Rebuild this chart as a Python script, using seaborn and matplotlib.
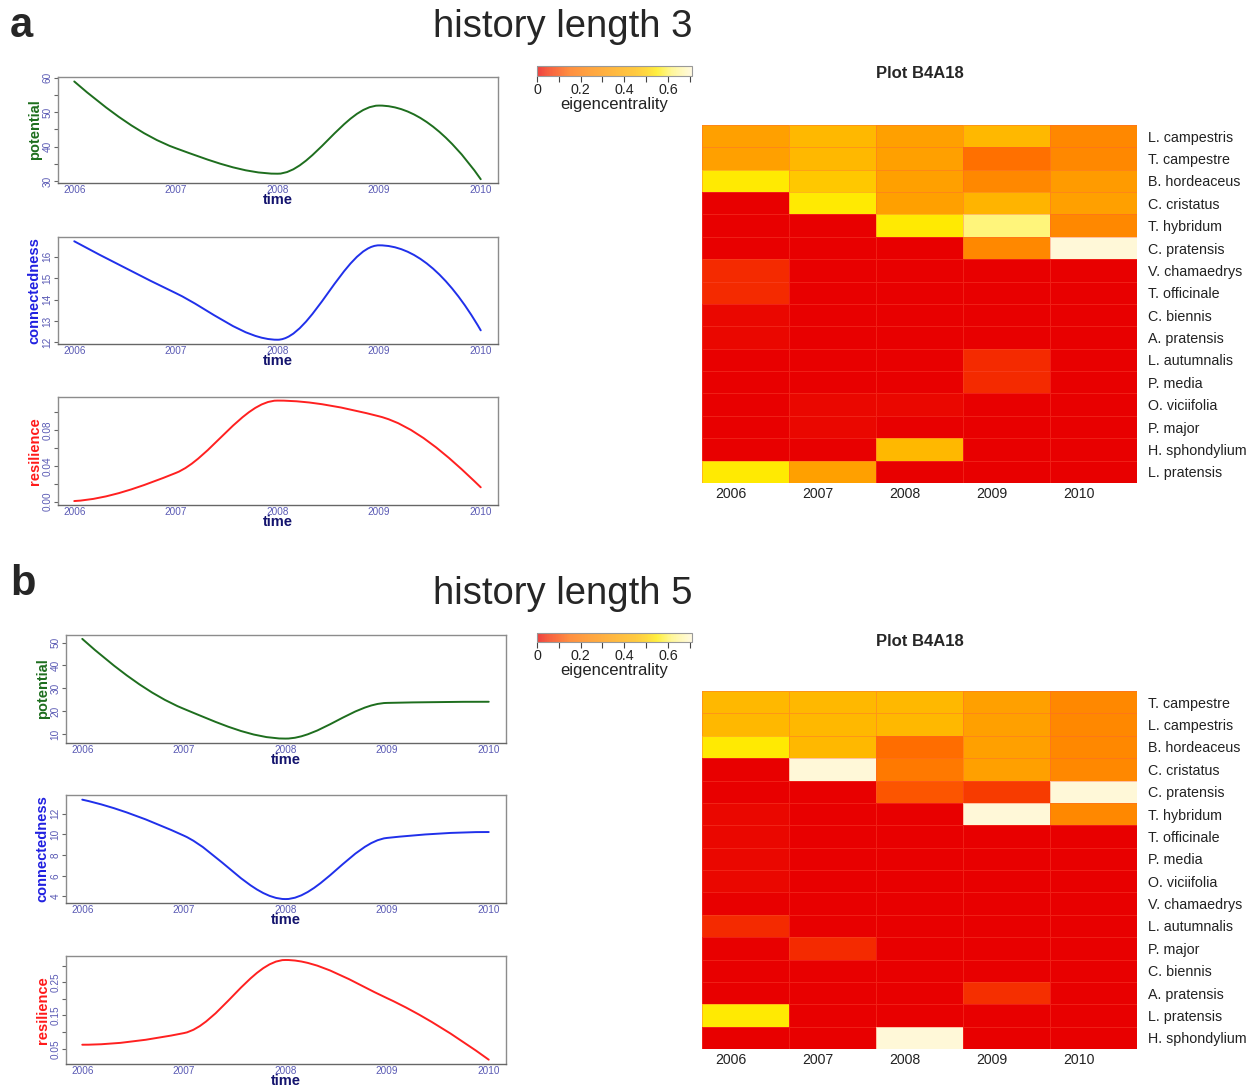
import numpy as np
import pandas as pd
import matplotlib
matplotlib.use("Agg")
import matplotlib.pyplot as plt
import seaborn as sns
from matplotlib.path import Path
from matplotlib.patches import PathPatch
from matplotlib.colors import LinearSegmentedColormap
import matplotlib.transforms as mtransforms

sns.set_style("white")
plt.rcParams['font.family'] = ['Liberation Sans', 'DejaVu Sans']

# ---------------- data ----------------
years = [2006, 2007, 2008, 2009, 2010]

potential_h3 = [58.9, 39.5, 32.1, 51.9, 30.5]
connectedness_h3 = [16.73, 14.3, 12.12, 16.54, 12.56]
resilience_h3 = [0.0007, 0.032, 0.1125, 0.095, 0.016]

potential_h5 = [51.6, 21.0, 8.0, 23.6, 24.1]
connectedness_h5 = [13.35, 9.87, 3.74, 9.65, 10.22]
resilience_h5 = [0.062, 0.097, 0.317, 0.202, 0.017]

species_h3 = ["L. campestris", "T. campestre", "B. hordeaceus", "C. cristatus",
              "T. hybridum", "C. pratensis", "V. chamaedrys", "T. officinale",
              "C. biennis", "A. pratensis", "L. autumnalis", "P. media",
              "O. viciifolia", "P. major", "H. sphondylium", "L. pratensis"]
eig_h3_2006 = [0.35, 0.35, 0.55, 0.00, 0.00, 0.00, 0.05, 0.05, 0.01, 0.01, 0.00, 0.00, 0.00, 0.00, 0.00, 0.55]
eig_h3_2007 = [0.45, 0.45, 0.49, 0.55, 0.00, 0.00, 0.00, 0.00, 0.00, 0.00, 0.00, 0.00, 0.01, 0.01, 0.00, 0.35]
eig_h3_2008 = [0.35, 0.35, 0.35, 0.35, 0.55, 0.00, 0.00, 0.00, 0.00, 0.00, 0.00, 0.00, 0.01, 0.00, 0.45, 0.00]
eig_h3_2009 = [0.45, 0.17, 0.25, 0.43, 0.62, 0.25, 0.00, 0.00, 0.00, 0.00, 0.05, 0.05, 0.00, 0.00, 0.00, 0.00]
eig_h3_2010 = [0.25, 0.25, 0.33, 0.35, 0.25, 0.71, 0.00, 0.00, 0.00, 0.00, 0.00, 0.00, 0.00, 0.00, 0.00, 0.00]

species_h5 = ["T. campestre", "L. campestris", "B. hordeaceus", "C. cristatus",
              "C. pratensis", "T. hybridum", "T. officinale", "P. media",
              "O. viciifolia", "V. chamaedrys", "L. autumnalis", "P. major",
              "C. biennis", "A. pratensis", "L. pratensis", "H. sphondylium"]
eig_h5_2006 = [0.45, 0.45, 0.55, 0.00, 0.00, 0.01, 0.01, 0.01, 0.01, 0.00, 0.05, 0.00, 0.00, 0.00, 0.55, 0.00]
eig_h5_2007 = [0.45, 0.45, 0.45, 0.71, 0.00, 0.00, 0.00, 0.00, 0.00, 0.00, 0.00, 0.05, 0.00, 0.00, 0.00, 0.00]
eig_h5_2008 = [0.45, 0.45, 0.16, 0.20, 0.12, 0.00, 0.00, 0.00, 0.00, 0.00, 0.00, 0.00, 0.00, 0.00, 0.00, 0.71]
eig_h5_2009 = [0.35, 0.35, 0.35, 0.35, 0.08, 0.71, 0.00, 0.00, 0.00, 0.00, 0.00, 0.00, 0.00, 0.06, 0.00, 0.00]
eig_h5_2010 = [0.25, 0.25, 0.25, 0.25, 0.71, 0.25, 0.00, 0.00, 0.00, 0.00, 0.00, 0.00, 0.00, 0.00, 0.00, 0.00]

VMAX = 0.71

# ---------------- styles ----------------
TICKC = '#5a5ab4'
TIMEC = '#14146e'
cmap = LinearSegmentedColormap.from_list("heatish", [
    (0.00, '#e80000'), (0.05 / VMAX, '#f42a00'), (0.10 / VMAX, '#fa4800'),
    (0.15 / VMAX, '#ff6a00'), (0.25 / VMAX, '#ff8800'), (0.35 / VMAX, '#ffa000'),
    (0.45 / VMAX, '#ffb800'), (0.50 / VMAX, '#ffcc00'), (0.55 / VMAX, '#ffea00'),
    (0.62 / VMAX, '#fff57a'), (1.00, '#fff8d8')])


def pchip_slopes(x, y):
    h = np.diff(x)
    delta = np.diff(y) / h
    n = len(x)
    d = np.zeros(n)
    for k in range(1, n - 1):
        if delta[k - 1] * delta[k] <= 0:
            d[k] = 0.0
        else:
            w1 = 2 * h[k] + h[k - 1]
            w2 = h[k] + 2 * h[k - 1]
            d[k] = (w1 + w2) / (w1 / delta[k - 1] + w2 / delta[k])

    def end(h0, h1, d0, d1):
        v = ((2 * h0 + h1) * d0 - h0 * d1) / (h0 + h1)
        if np.sign(v) != np.sign(d0):
            v = 0.0
        elif np.sign(d0) != np.sign(d1) and abs(v) > 3 * abs(d0):
            v = 3 * d0
        return v
    d[0] = end(h[0], h[1], delta[0], delta[1])
    d[-1] = end(h[-1], h[-2], delta[-1], delta[-2])
    return d


def smooth_line(ax, x, y, color):
    x = np.asarray(x, float)
    y = np.asarray(y, float)
    d = pchip_slopes(x, y)
    verts = [(x[0], y[0])]
    codes = [Path.MOVETO]
    for k in range(len(x) - 1):
        h = x[k + 1] - x[k]
        verts += [(x[k] + h / 3, y[k] + d[k] * h / 3),
                  (x[k + 1] - h / 3, y[k + 1] - d[k + 1] * h / 3),
                  (x[k + 1], y[k + 1])]
        codes += [Path.CURVE4] * 3
    ax.add_patch(PathPatch(Path(verts, codes), fill=False, edgecolor=color,
                           lw=1.4, transform=ax.transData, capstyle='round'))


def line_panel(fig, rect, values, ylabel, ycolor, lcolor, ylim, ticks, labels):
    ax = fig.add_axes(rect)
    smooth_line(ax, years, values, lcolor)
    ax.set_xlim(2005.84, 2010.17)
    ax.set_ylim(*ylim)
    ax.set_xticks(years)
    ax.set_xticklabels([str(y) for y in years])
    ax.set_yticks(ticks)
    ax.set_yticklabels(labels, rotation=90, va='center')
    ax.tick_params(axis='x', length=0, pad=1.5, labelsize=7.2, labelcolor=TICKC)
    ax.tick_params(axis='y', left=True, length=3, width=0.8, color='#666666', pad=1,
                   labelsize=7.2, labelcolor=TICKC)
    ax.set_xlabel('time', fontsize=10.5, fontweight='bold', color=TIMEC, labelpad=-1.5)
    ax.set_ylabel(ylabel, fontsize=10.5, fontweight='bold', color=ycolor, labelpad=0.5)
    for s in ax.spines.values():
        s.set_color('#8c8c8c')
        s.set_linewidth(1.0)
    ax.spines['bottom'].set_color('#666666')
    return ax


def heat_panel(fig, rect, crect, species, cols):
    df = pd.DataFrame({str(y): c for y, c in zip(years, cols)}, index=species)
    ax = fig.add_axes(rect)
    cax = fig.add_axes(crect)
    sns.heatmap(df, ax=ax, cmap=cmap, vmin=0, vmax=VMAX, cbar_ax=cax,
                cbar_kws={'orientation': 'horizontal'},
                linewidths=0.6, linecolor=(1.0, 0.35, 0.25, 0.35))
    ax.yaxis.tick_right()
    ax.set_yticklabels(species, rotation=0, ha='left', fontsize=10.3, color='#222222')
    ax.set_xticklabels([str(y) for y in years], rotation=0, fontsize=10.2, color='#222222')
    ax.tick_params(axis='y', length=0, pad=8)
    ax.tick_params(axis='x', length=0, pad=3)
    off = mtransforms.ScaledTranslation(-15 / 100, 0, fig.dpi_scale_trans)
    for lab in ax.get_xticklabels():
        lab.set_transform(lab.get_transform() + off)
    ax.set_xlabel('')
    ax.set_ylabel('')
    cb = ax.collections[0].colorbar
    cb.solids.set_alpha(0.75)
    cb.outline.set_edgecolor('#999999')
    cb.outline.set_linewidth(0.8)
    cb.set_ticks([0, 0.2, 0.4, 0.6])
    cb.set_ticklabels(['0', '0.2', '0.4', '0.6'])
    cb.ax.set_xticks(np.arange(0.1, 0.75, 0.2), minor=True)
    cb.ax.tick_params(which='both', axis='x', direction='out', length=4, width=0.8,
                      color='#444444', labelsize=10.3, labelcolor='#222222', pad=1,
                      bottom=True)
    cb.set_label('eigencentrality', fontsize=12, color='#222222', labelpad=0)
    return ax


W, H = 1252, 1089
fig = plt.figure(figsize=(W / 100, H / 100), dpi=100)


def R(x0, y0, x1, y1):
    return [x0 / W, 1 - y1 / H, (x1 - x0) / W, (y1 - y0) / H]


# ---- panel a ----
fig.text(10 / W, 1 - 26 / H, 'a', fontsize=30, fontweight='bold', va='center', ha='left')
fig.text(563 / W, 1 - 27 / H, 'history length 3', fontsize=27.5, va='center', ha='center')
line_panel(fig, R(58, 77, 498, 183), potential_h3, 'potential', '#1e6e1e', '#1e6e1e',
           (29.4, 60.2), [30, 35, 40, 45, 50, 55, 60], ['30', '', '40', '', '50', '', '60'])
line_panel(fig, R(58, 237, 498, 344), connectedness_h3, 'connectedness', '#2020e0', '#2030ea',
           (11.92, 16.93), [12, 13, 14, 15, 16], ['12', '13', '14', '15', '16'])
line_panel(fig, R(58, 397, 498, 505), resilience_h3, 'resilience', '#ff1a1a', '#ff2020',
           (-0.0037, 0.1165), [0, 0.02, 0.04, 0.06, 0.08, 0.10], ['0.00', '', '0.04', '', '0.08', ''])
heat_panel(fig, R(702, 125, 1137, 483), R(537, 66, 692, 76), species_h3,
           [eig_h3_2006, eig_h3_2007, eig_h3_2008, eig_h3_2009, eig_h3_2010])
fig.text(920 / W, 1 - 74 / H, 'Plot B4A18', fontsize=12, fontweight='bold', va='center', ha='center')

# ---- panel b ----
fig.text(10 / W, 1 - 584 / H, 'b', fontsize=30, fontweight='bold', va='center', ha='left')
fig.text(563 / W, 1 - 594 / H, 'history length 5', fontsize=27.5, va='center', ha='center')
line_panel(fig, R(66, 635, 506, 743), potential_h5, 'potential', '#1e6e1e', '#1e6e1e',
           (6.07, 53.3), [10, 20, 30, 40, 50], ['10', '20', '30', '40', '50'])
line_panel(fig, R(66, 795, 506, 903), connectedness_h5, 'connectedness', '#2020e0', '#2030ea',
           (3.36, 13.8), [4, 6, 8, 10, 12], ['4', '6', '8', '10', '12'])
line_panel(fig, R(66, 956, 506, 1064), resilience_h5, 'resilience', '#ff1a1a', '#ff2020',
           (0.004, 0.329), [0.05, 0.10, 0.15, 0.20, 0.25, 0.30], ['0.05', '', '0.15', '', '0.25', ''])
heat_panel(fig, R(702, 691, 1137, 1049), R(537, 633, 692, 642), species_h5,
           [eig_h5_2006, eig_h5_2007, eig_h5_2008, eig_h5_2009, eig_h5_2010])
fig.text(920 / W, 1 - 642 / H, 'Plot B4A18', fontsize=12, fontweight='bold', va='center', ha='center')

fig.savefig('out.png', dpi=100)
